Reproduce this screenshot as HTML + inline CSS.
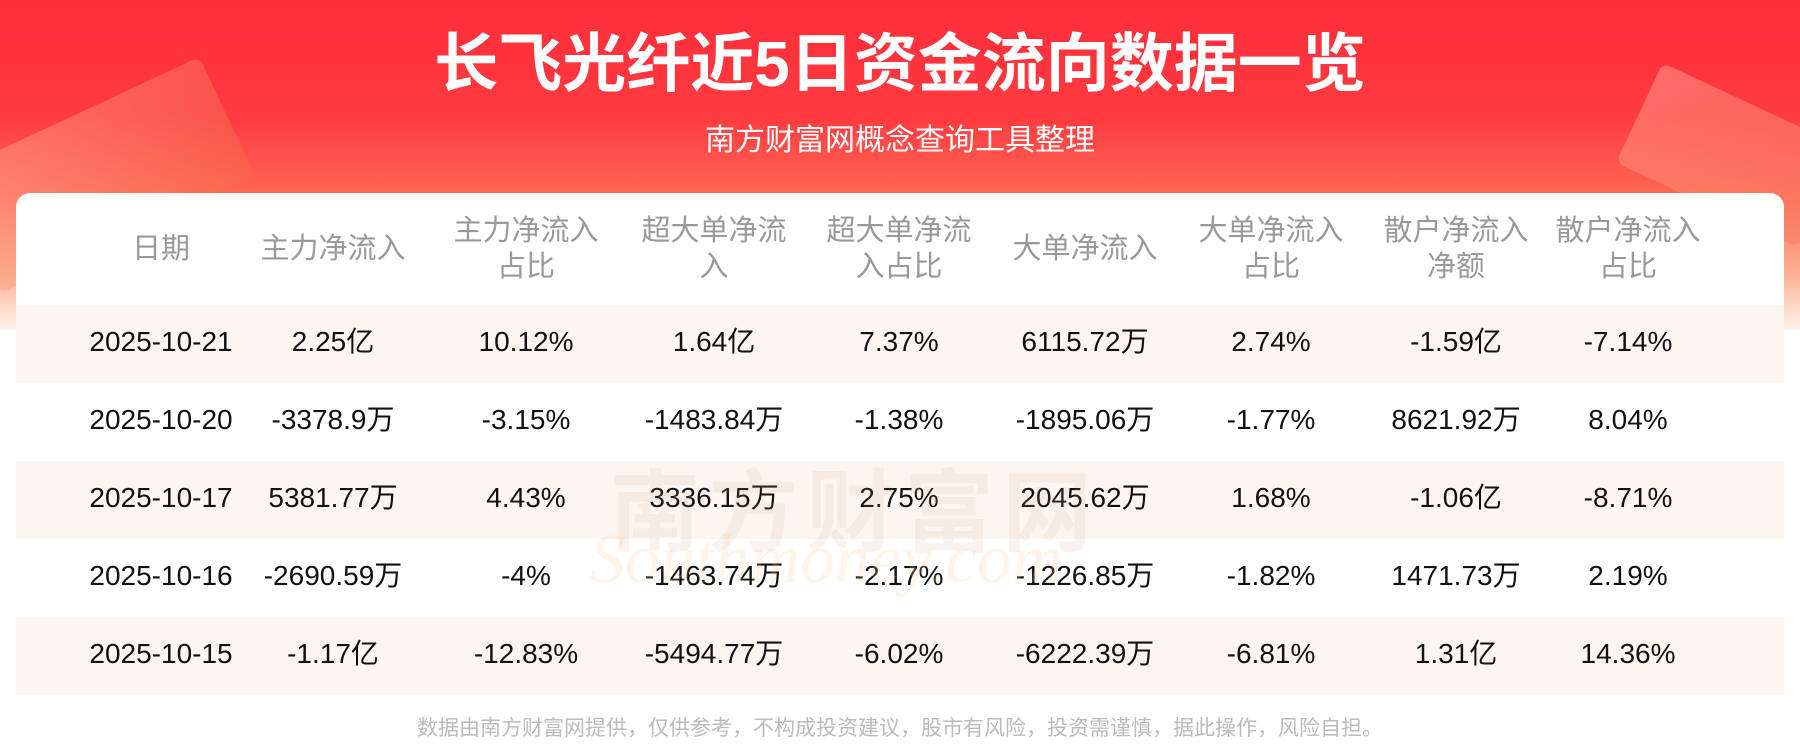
<!DOCTYPE html>
<html><head><meta charset="utf-8"><style>
*{margin:0;padding:0;box-sizing:border-box}
body{width:1800px;height:743px;overflow:hidden;position:relative;font-family:"Liberation Sans","Noto Sans CJK SC",sans-serif;background:#fff}
.bg{position:absolute;left:0;top:0;width:1800px;height:330px;background:linear-gradient(180deg,#ff2d3a 0%,#ff3a40 35%,#ff6a55 60%,#fcb89a 85%,#fff3ec 100%)}
.deco1{position:absolute;left:-40px;top:110px;width:280px;height:130px;background:linear-gradient(135deg,#ffb39a,#f36a4a);transform:rotate(-25deg);opacity:.45;border-radius:8px}
.deco2{position:absolute;right:-30px;top:100px;width:200px;height:110px;background:linear-gradient(135deg,#ffc0a8,#f47a5a);transform:rotate(25deg);opacity:.4;border-radius:8px}
.title{position:absolute;top:24px;left:0;width:1800px;text-align:center;color:#fff;font-size:64px;font-weight:bold;line-height:80px}
.sub{position:absolute;top:122px;left:0;width:1800px;text-align:center;color:#fff;font-size:30px;line-height:38px}
.card{position:absolute;left:16px;top:193px;width:1768px;height:502px;background:#fff;border-radius:14px 14px 0 0;border-bottom:3px solid #fdc89e}
.row{position:absolute;left:0;width:1768px;height:78px}
.band{background:#fdf6f0}
.c{position:absolute;top:0;height:100%;transform:translateX(-50%);text-align:center;white-space:nowrap}
.h .c{color:#999;font-size:29px;line-height:36px;display:flex;align-items:center;justify-content:center}
.d .c{color:#111;font-size:28px;line-height:74px}
.wm{position:absolute;left:610px;top:440px;font-size:90px;color:rgba(200,160,140,.13);font-weight:bold;letter-spacing:8px}
.wm2{position:absolute;left:590px;top:520px;font-size:70px;color:rgba(250,200,150,.2);font-style:italic;font-family:"Liberation Serif",serif}
.foot{position:absolute;top:714px;left:0;width:1800px;text-align:center;color:#bbb;font-size:21px;line-height:30px}
</style></head><body>
<div class="bg"></div><div class="deco1"></div><div class="deco2"></div>
<div class="title">长飞光纤近5日资金流向数据一览</div>
<div class="sub">南方财富网概念查询工具整理</div>
<div class="card">
<div class="row h" style="top:0;height:112px">
<div class="c" style="left:145px">日期</div>
<div class="c" style="left:317px">主力净流入</div>
<div class="c" style="left:510px">主力净流入<br>占比</div>
<div class="c" style="left:698px">超大单净流<br>入</div>
<div class="c" style="left:883px">超大单净流<br>入占比</div>
<div class="c" style="left:1069px">大单净流入</div>
<div class="c" style="left:1255px">大单净流入<br>占比</div>
<div class="c" style="left:1440px">散户净流入<br>净额</div>
<div class="c" style="left:1612px">散户净流入<br>占比</div>
</div>
<div class="row d band" style="top:112px"><div class="c" style="left:145px">2025-10-21</div><div class="c" style="left:317px">2.25亿</div><div class="c" style="left:510px">10.12%</div><div class="c" style="left:698px">1.64亿</div><div class="c" style="left:883px">7.37%</div><div class="c" style="left:1069px">6115.72万</div><div class="c" style="left:1255px">2.74%</div><div class="c" style="left:1440px">-1.59亿</div><div class="c" style="left:1612px">-7.14%</div></div>
<div class="row d" style="top:190px"><div class="c" style="left:145px">2025-10-20</div><div class="c" style="left:317px">-3378.9万</div><div class="c" style="left:510px">-3.15%</div><div class="c" style="left:698px">-1483.84万</div><div class="c" style="left:883px">-1.38%</div><div class="c" style="left:1069px">-1895.06万</div><div class="c" style="left:1255px">-1.77%</div><div class="c" style="left:1440px">8621.92万</div><div class="c" style="left:1612px">8.04%</div></div>
<div class="row d band" style="top:268px"><div class="c" style="left:145px">2025-10-17</div><div class="c" style="left:317px">5381.77万</div><div class="c" style="left:510px">4.43%</div><div class="c" style="left:698px">3336.15万</div><div class="c" style="left:883px">2.75%</div><div class="c" style="left:1069px">2045.62万</div><div class="c" style="left:1255px">1.68%</div><div class="c" style="left:1440px">-1.06亿</div><div class="c" style="left:1612px">-8.71%</div></div>
<div class="row d" style="top:346px"><div class="c" style="left:145px">2025-10-16</div><div class="c" style="left:317px">-2690.59万</div><div class="c" style="left:510px">-4%</div><div class="c" style="left:698px">-1463.74万</div><div class="c" style="left:883px">-2.17%</div><div class="c" style="left:1069px">-1226.85万</div><div class="c" style="left:1255px">-1.82%</div><div class="c" style="left:1440px">1471.73万</div><div class="c" style="left:1612px">2.19%</div></div>
<div class="row d band" style="top:424px"><div class="c" style="left:145px">2025-10-15</div><div class="c" style="left:317px">-1.17亿</div><div class="c" style="left:510px">-12.83%</div><div class="c" style="left:698px">-5494.77万</div><div class="c" style="left:883px">-6.02%</div><div class="c" style="left:1069px">-6222.39万</div><div class="c" style="left:1255px">-6.81%</div><div class="c" style="left:1440px">1.31亿</div><div class="c" style="left:1612px">14.36%</div></div>
</div>
<div class="wm">南方财富网</div>
<div class="wm2">Southmoney.com</div>
<div class="foot">数据由南方财富网提供，仅供参考，不构成投资建议，股市有风险，投资需谨慎，据此操作，风险自担。</div>
</body></html>
